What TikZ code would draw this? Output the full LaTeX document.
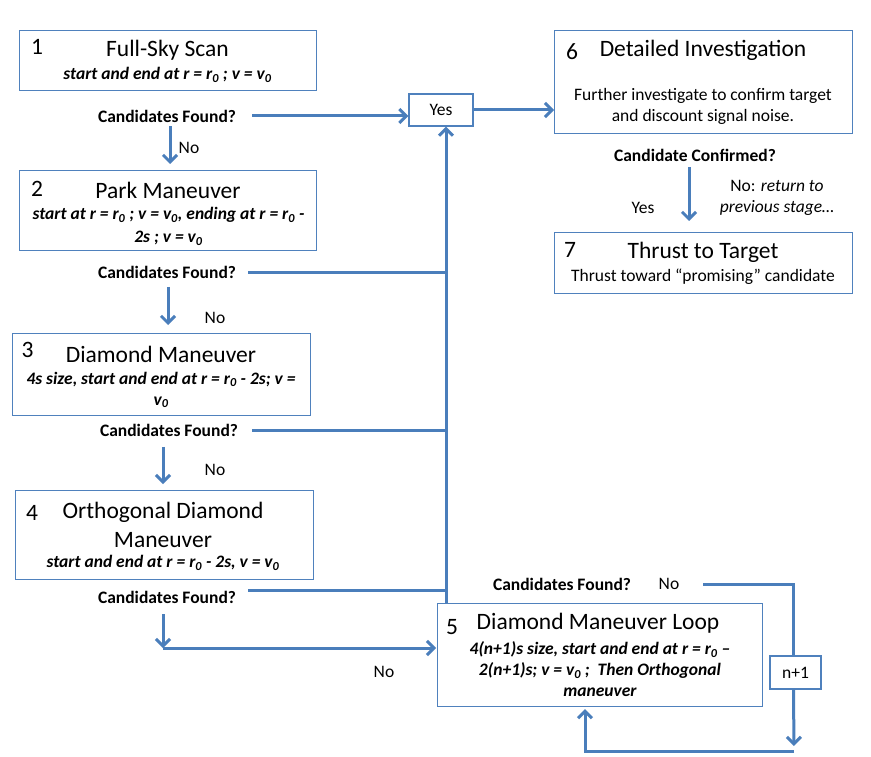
\documentclass[tikz,border=0pt]{standalone}
\usepackage{fontspec}
\setmainfont{Carlito}
\usetikzlibrary{arrows.meta}
\definecolor{lineblue}{HTML}{4A7EBB}
\definecolor{boxblue}{HTML}{4F81BD}
\newcommand\zs{\textsubscript{0}}
\begin{document}
\begin{tikzpicture}[x=1pt,y=-1pt,
  box/.style={draw=boxblue, line width=1.1pt, anchor=north west, inner sep=0pt},
  ttl/.style={font=\fontsize{23.5}{29}\selectfont, inner sep=0pt, align=center},
  sub/.style={font=\fontsize{17.5}{21}\selectfont\bfseries\itshape, inner sep=0pt, align=center},
  body/.style={font=\fontsize{17.5}{21}\selectfont, inner sep=0pt, align=center},
  ask/.style={font=\fontsize{17.5}{21}\selectfont\bfseries, inner sep=0pt},
  ln/.style={draw=lineblue, line width=3pt},
  arr/.style={ln, -{Straight Barb[length=7pt,width=14pt]}},
]
\fill[white] (0,0) rectangle (871,757);
\useasboundingbox (0,0) rectangle (871,757);

% boxes
\node[box, minimum width=297pt, minimum height=60pt] (b1) at (19,30) {};
\node[box, minimum width=297pt, minimum height=80pt] (b2) at (19,170) {};
\node[box, minimum width=298pt, minimum height=82pt] (b3) at (12,333) {};
\node[box, minimum width=298pt, minimum height=89pt] (b4) at (15,490) {};
\node[box, minimum width=325pt, minimum height=103pt] (b5) at (437,603) {};
\node[box, minimum width=298pt, minimum height=103pt] (b6) at (554,30) {};
\node[box, minimum width=298pt, minimum height=61pt] (b7) at (554,232) {};
\node[box, body, anchor=center, minimum width=64pt, minimum height=32pt] (yes) at (441,110) {Yes};
\node[box, body, anchor=center, minimum width=51pt, minimum height=33pt] (nb) at (795.5,672.5) {n+1};

% box 1
\node[ttl] (k1) at (37,47) {1};
\node[ttl] (t1) at (167.5,50.5) {Full-Sky Scan};
\node[sub] (s1) at (167.5,75) {start and end at r = r\zs{} ; v = v\zs};
\node[ask] (cf1) at (167,116) {Candidates Found?};
\node[body] (no1) at (189,148) {No};

% box 2
\node[ttl] (k2) at (37,188.5) {2};
\node[ttl] (t2) at (168,190) {Park Maneuver};
\node[sub, font=\fontsize{17.5}{23}\selectfont\bfseries\itshape] (s2) at (168.5,226.5) {start at r = r\zs{} ; v = v\zs, ending at r = r\zs{} -\\2s ; v = v\zs};
\node[ask] (cf2) at (167,272.5) {Candidates Found?};
\node[body] (no2) at (215,318) {No};

% box 3
\node[ttl] (k3) at (27.5,350) {3};
\node[ttl] (t3) at (161,354) {Diamond Maneuver};
\node[sub] (s3) at (161,390) {4s size, start and end at r = r\zs{} - 2s; v =\\v\zs};
\node[ask] (cf3) at (169,430.5) {Candidates Found?};
\node[body] (no3) at (215,470) {No};

% box 4
\node[ttl] (k4) at (32,512.5) {4};
\node[ttl] (t4) at (163,524.5) {Orthogonal Diamond\\Maneuver};
\node[sub] (s4) at (163,563) {start and end at r = r\zs{} - 2s, v = v\zs};
\node[ask] (cf4) at (167,597) {Candidates Found?};
\node[body] (no4) at (384,672) {No};

% box 5
\node[ttl] (k5) at (452,627) {5};
\node[ttl] (t5) at (598,623) {Diamond Maneuver Loop};
\node[sub] (s5) at (600,669) {4(n+1)s size, start and end at r = r\zs{} --\\2(n+1)s; v = v\zs{} ;\ \ Then Orthogonal\\maneuver};
\node[ask] (cf5) at (562,584) {Candidates Found?};
\node[body] (no5) at (669,584) {No};

% box 6
\node[ttl] (k6) at (572,52) {6};
\node[ttl] (t6) at (703,50) {Detailed Investigation};
\node[body] (d6) at (703,106.5) {Further investigate to confirm target\\and discount signal noise.};
\node[ask] (cc) at (695,155) {Candidate Confirmed?};
\node[body] (y7) at (643,208) {Yes};
\node[body] (n7) at (777,197.5) {No: \textit{return to}\\\textit{previous stage…}};

% box 7
\node[ttl] (k7) at (570,250) {7};
\node[ttl] (t7) at (703,252) {Thrust to Target};
\node[body] (d7) at (703,277) {Thrust toward “promising” candidate};

% trunk and corner coordinates
\coordinate (tb) at (446,603);
\coordinate (k4c) at (163,648);
\coordinate (lc) at (794,751);
\coordinate (lb) at (585,751);

% connectors
\draw[arr] ([xshift=16pt]cf1.east) -- (cf1.east -| yes.west);
\draw[arr] (yes.east) -- (yes.east -| b6.west);
\draw[arr] (tb) -- (tb |- yes.south);
\draw[ln] ([xshift=12pt]cf2.east) -- (cf2.east -| tb);
\draw[ln] ([xshift=14pt]cf3.east) -- (cf3.east -| tb);
\draw[ln] ([xshift=12pt,yshift=7pt]cf4.east) -- ([yshift=7pt]cf4.east -| tb);

\draw[arr, shorten <=4pt, shorten >=6pt] ([xshift=3pt]cf1.south) -- ([xshift=3pt]cf1.south |- b2.north);
\draw[arr, shorten <=8pt, shorten >=8pt] ([xshift=1pt]cf2.south) -- ([xshift=1pt]cf2.south |- b3.north);
\draw[arr, shorten <=10pt, shorten >=6pt] ([xshift=-6pt]cf3.south) -- ([xshift=-6pt]cf3.south |- b4.north);
\draw[arr, shorten <=11pt] (cf4.south -| k4c) -- (k4c);
\draw[arr, shorten >=1pt] (k4c) -- (k4c -| b5.west);

\draw[arr, shorten <=6pt, shorten >=11pt] ([xshift=-6pt]cc.south) -- ([xshift=-6pt]cc.south |- b7.north);

\draw[ln] ([xshift=24pt]no5.east) -| ([xshift=-2pt]nb.north);
\draw[arr, shorten >=5pt] ([xshift=-2pt]nb.south) -- (lc);
\draw[arr, shorten >=2pt] (lc) -- (lb) -- (lb |- b5.south);
\end{tikzpicture}
\end{document}
